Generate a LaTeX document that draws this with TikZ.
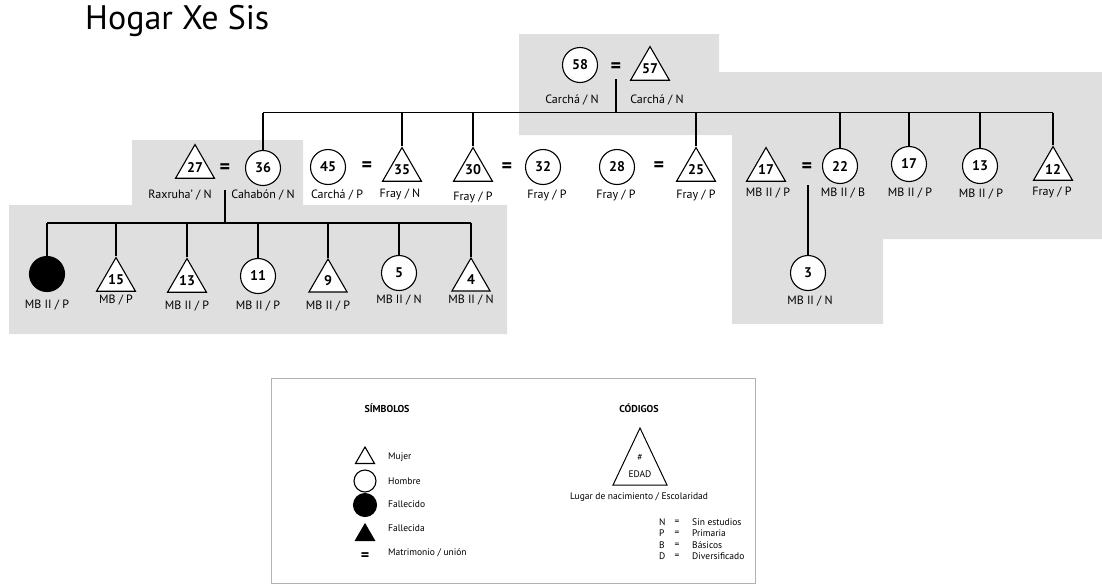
\documentclass[tikz,border=0pt]{standalone}
\usepackage{fontspec}
\setmainfont{PT Sans}
\usetikzlibrary{shapes.geometric}
\definecolor{famgray}{RGB}{223,223,223}
\tikzset{
	man/.style={circle,draw,line width=1.1pt,fill=white,minimum size=35pt,inner sep=0pt,font=\bfseries\fontsize{14}{14}\selectfont},
	woman/.style={regular polygon,regular polygon sides=3,draw,line width=1.1pt,fill=white,minimum size=44pt,inner sep=0pt,font=\bfseries\fontsize{14}{14}\selectfont},
	dead/.style={man,fill=black},
	who/.style={font=\fontsize{12}{13}\selectfont,inner sep=0pt},
	wed/.style={font=\bfseries\fontsize{20}{20}\selectfont,inner sep=0pt},
	kin/.style={line width=1.6pt},
	key/.style={font=\fontsize{9.5}{10}\selectfont,inner sep=0pt},
	keyhead/.style={font=\bfseries\fontsize{10}{10}\selectfont,inner sep=0pt},
}
\begin{document}
\begin{tikzpicture}[x=1pt,y=-1pt]
	\useasboundingbox (0,0) rectangle (1102,584);
	\fill[famgray] (519,34) -- (719,34) -- (719,72) -- (1102,72) -- (1102,239) -- (883,239)
		-- (883,324) -- (732,324) -- (732,135) -- (519,135) -- cycle;
	\fill[famgray] (132,140) -- (303,140) -- (303,205) -- (507,205) -- (507,334) -- (9,334)
		-- (9,205) -- (132,205) -- cycle;
	\node[anchor=west,inner sep=0pt,font=\fontsize{34}{36}\selectfont] (title) at (85,21) {Hogar Xe Sis};

	% grandparents
	\node[man] (n58) at (580,65) {58};
	\node[wed] (e1) at (616,68) {=};
	\node[woman] (n57) at (650,69) {57};
	\node[who] (l58) at (572,100) {Carchá / N};
	\node[who] (l57) at (657,100) {Carchá / N};
	\coordinate (m1) at (616,79);
	\coordinate (bar1) at (616,112.5);

	% children and couples
	\node[woman] (n27) at (195,167) {27};
	\node[wed] (e2) at (225,169) {=};
	\node[man] (n36) at (263,168) {36};
	\node[man] (n45) at (328,167) {45};
	\node[wed] (e3) at (367,167) {=};
	\node[woman] (n35) at (402,170) {35};
	\node[woman] (n30) at (473,170) {30};
	\node[wed] (e4) at (507,168) {=};
	\node[man] (n32) at (543,167) {32};
	\node[man] (n28) at (617,167) {28};
	\node[wed] (e5) at (659,167) {=};
	\node[woman] (n25) at (696,170) {25};
	\node[woman] (n17) at (766,170) {17};
	\node[wed] (e6) at (807,168) {=};
	\node[man] (n22) at (840,166) {22};
	\node[man] (n17b) at (909,164) {17};
	\node[man] (n13) at (980,166) {13};
	\node[woman] (n12) at (1053,169) {12};
	\node[who] (l27) at (180,195) {Raxruha' / N};
	\node[who] (l36) at (263,195) {Cahabón / N};
	\node[who] (l45) at (337,195) {Carchá / P};
	\node[who] (l35) at (400,194) {Fray / N};
	\node[who] (l30) at (473,197) {Fray / P};
	\node[who] (l32) at (547,195) {Fray / P};
	\node[who] (l28) at (616,195) {Fray / P};
	\node[who] (l25) at (696,195) {Fray / P};
	\node[who] (l17) at (768,193) {MB II / P};
	\node[who] (l22) at (843,193) {MB II / B};
	\node[who] (l17b) at (910,193) {MB II / P};
	\node[who] (l13) at (981,194) {MB II / P};
	\node[who] (l12) at (1052,192) {Fray / P};
	\coordinate (m2) at (225,190);
	\coordinate (bar2) at (225,223);
	\coordinate (m3) at (808,185);

	% grandchildren
	\node[dead] (d1) at (47,274) {};
	\node[woman] (n15) at (116,280) {15};
	\node[woman] (n13b) at (187,281) {13};
	\node[man] (n11) at (258,276) {11};
	\node[woman] (n9) at (328,281) {9};
	\node[man] (n5) at (399,273) {5};
	\node[woman] (n4) at (471,280) {4};
	\node[man] (n3) at (808,273) {3};
	\node[who] (ld1) at (47,305) {MB II / P};
	\node[who] (l15) at (116,300) {MB / P};
	\node[who] (l13b) at (187,306) {MB II / P};
	\node[who] (l11) at (258,306) {MB II / P};
	\node[who] (l9) at (328,306) {MB II / P};
	\node[who] (l5) at (399,300) {MB II / N};
	\node[who] (l4) at (471,300) {MB II / N};
	\node[who] (l3) at (810,301) {MB II / N};

	\draw[kin] (m1) -- (bar1);
	\draw[kin] (n36.north |- bar1) -- (n12.north |- bar1);
	\foreach \c in {n36,n35,n30,n25,n22,n17b,n13,n12}
		\draw[kin] (\c.north |- bar1) -- (\c.north);
	\draw[kin] (m2) -- (bar2);
	\draw[kin] (d1.north |- bar2) -- (n4.north |- bar2);
	\foreach \c in {d1,n15,n13b,n11,n9,n5,n4}
		\draw[kin] (\c.north |- bar2) -- (\c.north);
	\draw[kin] (m3) -- (n3.north);

	% legend
	\node[draw=gray!60,line width=0.8pt,minimum width=484pt,minimum height=205pt,inner sep=0pt] (legend) at (513,480.5) {};
	\node[keyhead] (symb) at (387,408) {SÍMBOLOS};
	\node[keyhead] (cod) at (639,408) {CÓDIGOS};
	\node[woman,minimum size=22pt] (k1) at (365,458) {};
	\node[man,minimum size=22pt] (k2) at (365,481) {};
	\node[dead,minimum size=23pt] (k3) at (365,505) {};
	\node[woman,minimum size=22pt,fill=black] (k4) at (365,535) {};
	\node[wed,font=\bfseries\fontsize{16}{16}\selectfont] (k5) at (365,557) {=};
	\node[key,anchor=west] (t1) at (388,457) {Mujer};
	\node[key,anchor=west] (t2) at (388,481) {Hombre};
	\node[key,anchor=west] (t3) at (388,504) {Fallecido};
	\node[key,anchor=west] (t4) at (388,528) {Fallecida};
	\node[key,anchor=west] (t5) at (388,553) {Matrimonio / unión};
	\draw[line width=1pt] (640,428) -- (667,485) -- (613,485) -- cycle;
	\node[key] (hash) at (640,457) {\#};
	\node[key] (edad) at (640,474) {EDAD};
	\node[key] (lugar) at (639,497) {Lugar de nacimiento / Escolaridad};
	\foreach \k/\w [count=\i] in {N/Sin estudios,P/Primaria,B/Básicos,D/Diversificado}{
		\node[key,anchor=west] (c\i) at (659,511+11.3*\i) {\k};
		\node[key] (q\i) at (677,511+11.3*\i) {=};
		\node[key,anchor=west] (w\i) at (692,511+11.3*\i) {\w};
	}
\end{tikzpicture}
\end{document}
